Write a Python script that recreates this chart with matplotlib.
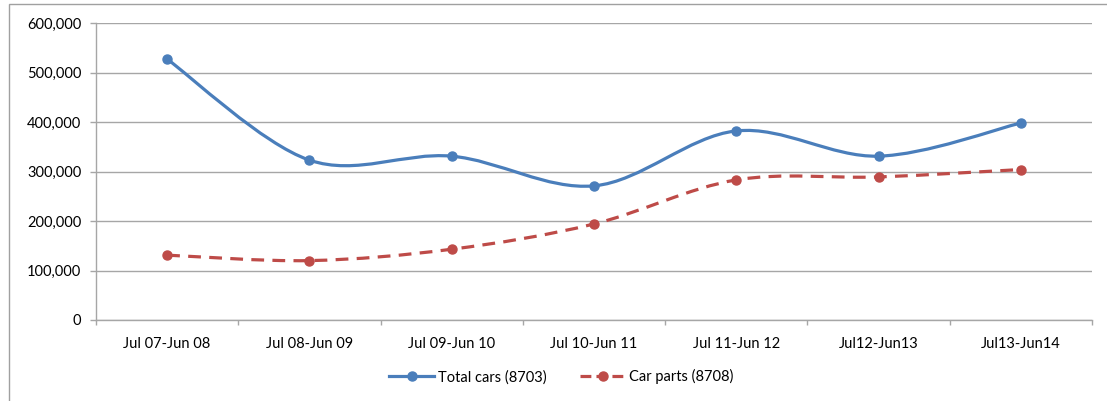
import matplotlib

matplotlib.use("Agg")
import matplotlib.pyplot as plt
import numpy as np
from matplotlib.lines import Line2D
from matplotlib.patches import PathPatch, Rectangle
from matplotlib.path import Path
from matplotlib.ticker import FuncFormatter, MultipleLocator

plt.rcParams["font.family"] = ["Lato", "DejaVu Sans"]

# Data
periods = ["Jul 07-Jun 08", "Jul 08-Jun 09", "Jul 09-Jun 10", "Jul 10-Jun 11",
           "Jul 11-Jun 12", "Jul12-Jun13", "Jul13-Jun14"]
total_cars = [527000, 323000, 331000, 271000, 382000, 331000, 398000]
car_parts = [131000, 120000, 143000, 194000, 283000, 289000, 304000]

BLUE = "#4A7EBB"
RED = "#BE4B48"
GRID = "#A6A6A6"


def smooth_path(xs, ys):
    """Excel-style smoothed line: cubic Bezier through each point (Catmull-Rom control points)."""
    pts = np.column_stack([xs, ys]).astype(float)
    padded = np.vstack([pts[0], pts, pts[-1]])
    verts = [pts[0]]
    codes = [Path.MOVETO]
    for i in range(len(pts) - 1):
        p0, p1, p2, p3 = padded[i], padded[i + 1], padded[i + 2], padded[i + 3]
        verts += [p1 + (p2 - p0) / 6, p2 - (p3 - p1) / 6, p2]
        codes += [Path.CURVE4] * 3
    return Path(verts, codes)


fig = plt.figure(figsize=(11.07, 4.01), dpi=100)
ax = fig.add_axes([0.0867, 0.202, 0.8997, 0.7406])

x = np.arange(len(periods))
ax.add_patch(PathPatch(smooth_path(x, total_cars), fill=False, edgecolor=BLUE,
                       lw=2.3, capstyle="round", zorder=3))
ax.add_patch(PathPatch(smooth_path(x, car_parts), fill=False, edgecolor=RED,
                       lw=2.3, linestyle=(0, (4, 2.6)), zorder=3))
ax.plot(x, total_cars, "o", color=BLUE, ms=6.5, zorder=4)
ax.plot(x, car_parts, "o", color=RED, ms=6.5, zorder=4)

ax.set_xlim(-0.5, len(periods) - 0.5)
ax.set_ylim(0, 600000)
ax.yaxis.set_major_locator(MultipleLocator(100000))
ax.yaxis.set_major_formatter(FuncFormatter(lambda v, p: f"{int(v):,}"))
ax.set_xticks(x)
ax.set_xticklabels(periods)
ax.set_xticks(np.arange(-0.5, len(periods)), minor=True)
ax.tick_params(axis="x", which="major", length=0, pad=12, labelsize=10.5)
ax.tick_params(axis="x", which="minor", length=3.8, color=GRID, width=1)
ax.tick_params(axis="y", length=4.5, color=GRID, width=1, labelsize=10.5, pad=6)
ax.grid(axis="y", color=GRID, lw=1)
ax.set_axisbelow(True)
for side in ["top", "right"]:
    ax.spines[side].set_visible(False)
for side in ["left", "bottom"]:
    ax.spines[side].set_color(GRID)
    ax.spines[side].set_linewidth(1)

handles = [
    Line2D([], [], color=BLUE, lw=2.3, marker="o", ms=6.5),
    Line2D([], [], color=RED, lw=2.3, marker="o", ms=6.5, linestyle=(0, (3.4, 1.6))),
]
fig.legend(handles, ["Total cars (8703)", "Car parts (8708)"], loc="center",
           bbox_to_anchor=(0.507, 0.06), ncol=2, frameon=False, fontsize=10.5,
           handlelength=3.1, columnspacing=2.3, handletextpad=0.25)

fig.patches.append(Rectangle((9 / 1107, -0.1), 1.2, 1.1 - 4 / 401, transform=fig.transFigure,
                             fill=False, edgecolor="#A0A0A0", lw=1))

fig.savefig("out.png", dpi=100)
